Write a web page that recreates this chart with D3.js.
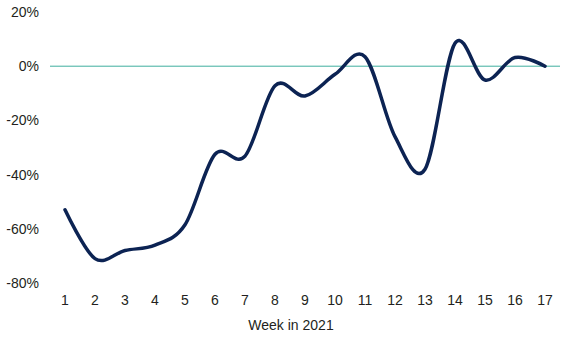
<!DOCTYPE html>
<html>
<head>
<meta charset="utf-8">
<script src="https://cdn.jsdelivr.net/npm/d3@7"></script>
<style>
  html, body { margin: 0; padding: 0; background: #fff; }
  svg text { font-family: "Liberation Sans", Arial, sans-serif; fill: #231f20; }
</style>
</head>
<body>
<svg id="chart" width="576" height="337"></svg>
<script>
const weeks = [1, 2, 3, 4, 5, 6, 7, 8, 9, 10, 11, 12, 13, 14, 15, 16, 17];
const values = [-53, -71, -68, -66, -58.5, -32.5, -33.2, -7.2, -11, -3, 3.5, -26, -38, 8.5, -5.1, 3.2, 0];
const yTicks = [-80, -60, -40, -20, 0, 20];
const xTitle = "Week in 2021";

const svg = d3.select("#chart");
const plot = { left: 50, right: 560, top: 12, bottom: 283 };

const x = d3.scaleBand().domain(weeks).range([plot.left, plot.right]);
const y = d3.scaleLinear().domain([-80, 20]).range([plot.bottom, plot.top]);

// y labels
svg.append("g")
  .selectAll("text")
  .data(yTicks)
  .join("text")
  .attr("x", 39)
  .attr("y", d => y(d))
  .attr("dy", "0.35em")
  .attr("text-anchor", "end")
  .attr("font-size", 14)
  .text(d => d + "%");

// zero line
svg.append("line")
  .attr("x1", plot.left).attr("x2", plot.right)
  .attr("y1", y(0)).attr("y2", y(0))
  .attr("stroke", "#3fae9e")
  .attr("stroke-width", 1);

// x labels
svg.append("g")
  .selectAll("text")
  .data(weeks)
  .join("text")
  .attr("x", d => x(d) + x.bandwidth() / 2)
  .attr("y", 300)
  .attr("dy", "0.35em")
  .attr("text-anchor", "middle")
  .attr("font-size", 14)
  .text(d => d);

svg.append("text")
  .attr("x", 291)
  .attr("y", 325)
  .attr("dy", "0.35em")
  .attr("text-anchor", "middle")
  .attr("font-size", 14)
  .text(xTitle);

// line
const line = d3.line()
  .x((d, i) => x(weeks[i]) + x.bandwidth() / 2)
  .y(d => y(d))
  .curve(d3.curveCardinal.tension(0));

svg.append("path")
  .datum(values)
  .attr("d", line)
  .attr("fill", "none")
  .attr("stroke", "#0c2353")
  .attr("stroke-width", 3.5)
  .attr("stroke-linejoin", "round")
  .attr("stroke-linecap", "round");
</script>
</body>
</html>
